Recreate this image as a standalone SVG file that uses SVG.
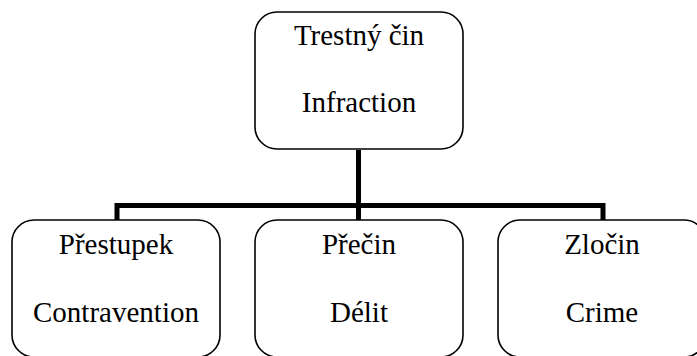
<svg xmlns="http://www.w3.org/2000/svg" width="697" height="356" viewBox="0 0 697 356">
<style>
.box{fill:#fff;stroke:#000;stroke-width:1.6}
.t{font-family:'Liberation Serif','DejaVu Serif',serif;font-size:29px;fill:#000;text-anchor:middle}
.c{fill:none;stroke:#000;stroke-width:5;stroke-linejoin:miter}
</style>
<rect width="697" height="356" fill="#fff"/>
<g id="connectors">
<path class="c" d="M358.5 150 V205.5 M117 220 V205.5 H603 V220 M358.5 205.5 V220"/>
</g>
<g id="node-top">
<rect class="box" x="255" y="12" width="208" height="137" rx="22"/>
<text class="t" x="359" y="45">Trestný čin</text>
<text class="t" x="359" y="112">Infraction</text>
</g>
<g id="node-left">
<rect class="box" x="12" y="220" width="208" height="137" rx="22"/>
<text class="t" x="116" y="254">Přestupek</text>
<text class="t" x="116" y="322">Contravention</text>
</g>
<g id="node-mid">
<rect class="box" x="255" y="220" width="208" height="137" rx="22"/>
<text class="t" x="359" y="254">Přečin</text>
<text class="t" x="359" y="322">Délit</text>
</g>
<g id="node-right">
<rect class="box" x="498" y="220" width="208" height="137" rx="22"/>
<text class="t" x="602" y="254">Zločin</text>
<text class="t" x="602" y="322">Crime</text>
</g>
</svg>
